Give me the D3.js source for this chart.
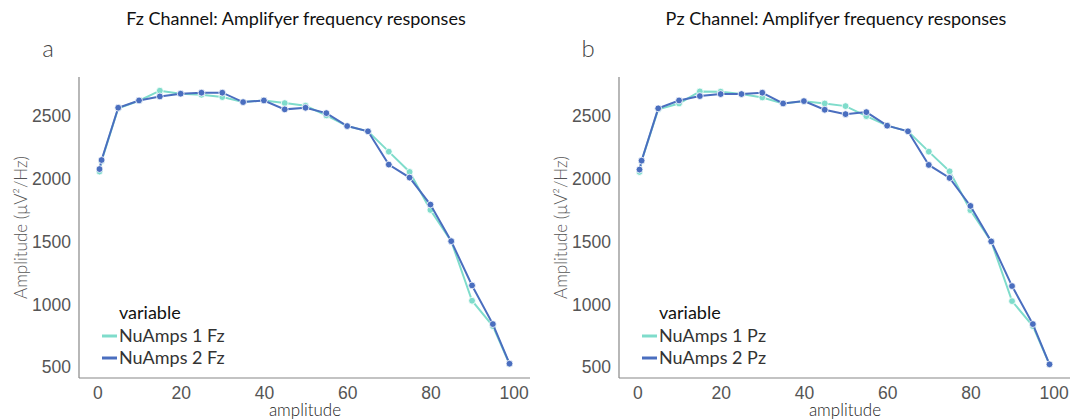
<!DOCTYPE html>
<html>
<head>
<meta charset="utf-8">
<script src="https://cdn.jsdelivr.net/npm/d3@7"></script>
<style>
  body { margin: 0; background: #fff; }
  svg { font-family: Lato, "Noto Sans", sans-serif; }
  .tick text { fill: #555; font-size: 17.5px; font-weight: 300; }
  .axis path { stroke: #888; stroke-width: 1.2; }
</style>
</head>
<body>
<div id="chart"></div>
<script>
// frequencies (x values)
var freqs = [0.5, 1, 5, 10, 15, 20, 25, 30, 35, 40, 45, 50, 55, 60, 65, 70, 75, 80, 85, 90, 95, 99];

// Fz channel
var fzAmp1 = [2060, 2145, 2565, 2625, 2705, 2680, 2673, 2654, 2614, 2627, 2606, 2585, 2508, 2423, 2381, 2219, 2057, 1754, 1505, 1030, 828, 525];
var fzAmp2 = [2080, 2152, 2569, 2627, 2659, 2681, 2689, 2689, 2614, 2627, 2556, 2569, 2526, 2423, 2381, 2116, 2012, 1797, 1505, 1152, 844, 528];

// Pz channel
var pzAmp1 = [2057, 2145, 2556, 2603, 2699, 2697, 2678, 2651, 2603, 2620, 2603, 2582, 2502, 2426, 2381, 2219, 2062, 1752, 1503, 1027, 828, 523];
var pzAmp2 = [2076, 2147, 2564, 2627, 2662, 2678, 2678, 2689, 2603, 2622, 2553, 2518, 2534, 2426, 2381, 2113, 2009, 1786, 1503, 1147, 844, 523];

var xTicks = [0, 20, 40, 60, 80, 100];
var yTicks = [500, 1000, 1500, 2000, 2500];

var colors = ["#7fdccb", "#4a6ebf"];

var panels = [
    {letter: "a", title: "Fz Channel: Amplifyer frequency responses", ch: "Fz", series: [fzAmp1, fzAmp2]},
    {letter: "b", title: "Pz Channel: Amplifyer frequency responses", ch: "Pz", series: [pzAmp1, pzAmp2]}
];

var W = 1084, H = 420;
var svg = d3.select("#chart").append("svg").attr("width", W).attr("height", H);

// plot box for the left panel, right one is offset by 540
var box = {left: 79, right: 530, top: 77, bottom: 378};

// data limits with 5% padding like matplotlib
var allY = fzAmp1.concat(fzAmp2, pzAmp1, pzAmp2);
var yMin = d3.min(allY), yMax = d3.max(allY);
var xMin = d3.min(freqs), xMax = d3.max(freqs);
var xPad = (xMax - xMin) * 0.05, yPad = (yMax - yMin) * 0.05;

panels.forEach(function(p, pi) {
    var off = pi * 540;
    var g = svg.append("g").attr("transform", "translate(" + off + ",0)");

    var x = d3.scaleLinear().domain([xMin - xPad, xMax + xPad]).range([box.left, box.right]);
    var y = d3.scaleLinear().domain([yMin - yPad, yMax + yPad]).range([box.bottom, box.top]);

    // axes
    g.append("g").attr("class", "axis")
        .attr("transform", "translate(0," + box.bottom + ")")
        .call(d3.axisBottom(x).tickValues(xTicks).tickFormat(d3.format("d")).tickSize(0).tickPadding(9))
        .call(function(a) { a.select(".domain").attr("d", "M" + box.left + ",0H" + box.right); });

    g.append("g").attr("class", "axis")
        .attr("transform", "translate(" + box.left + ",0)")
        .call(d3.axisLeft(y).tickValues(yTicks).tickFormat(d3.format("d")).tickSize(0).tickPadding(8))
        .call(function(a) { a.select(".domain").attr("d", "M0," + box.top + "V" + box.bottom); });

    // title + panel letter
    g.append("text").attr("x", 296).attr("y", 25).attr("text-anchor", "middle")
        .style("font-size", "18px").style("fill", "#111").text(p.title);
    g.append("text").attr("x", 48).attr("y", 57).attr("text-anchor", "middle")
        .style("font-size", "24px").style("font-weight", 300).style("fill", "#444").text(p.letter);

    // axis labels
    g.append("text").attr("x", 305).attr("y", 416).attr("text-anchor", "middle")
        .style("font-size", "17px").style("font-weight", 300).style("fill", "#222").text("amplitude");
    g.append("text").attr("transform", "translate(27," + ((box.top + box.bottom) / 2) + ") rotate(-90)")
        .attr("text-anchor", "middle")
        .style("font-size", "17px").style("font-weight", 300).style("fill", "#555")
        .text("Amplitude (μV²/Hz)");

    var line = d3.line().x(function(d) { return x(d[0]); }).y(function(d) { return y(d[1]); });

    p.series.forEach(function(vals, si) {
        var pts = freqs.map(function(f, i) { return [f, vals[i]]; });
        g.append("path").datum(pts)
            .attr("fill", "none").attr("stroke", colors[si]).attr("stroke-width", 2)
            .attr("d", line);
        g.selectAll(".dot" + si).data(pts).enter().append("circle")
            .attr("class", "dot" + si)
            .attr("cx", function(d) { return x(d[0]); })
            .attr("cy", function(d) { return y(d[1]); })
            .attr("r", 3.4)
            .attr("fill", colors[si]).attr("stroke", "#fff").attr("stroke-width", 0.8);
    });

    // legend
    var lg = g.append("g");
    lg.append("text").attr("x", 119).attr("y", 319)
        .style("font-size", "18px").style("fill", "#111").text("variable");
    ["NuAmps 1 ", "NuAmps 2 "].forEach(function(name, i) {
        var yy = 336 + i * 22;
        lg.append("line").attr("x1", 102).attr("x2", 117).attr("y1", yy).attr("y2", yy)
            .attr("stroke", colors[i]).attr("stroke-width", 3);
        lg.append("text").attr("x", 119).attr("y", yy + 6)
            .style("font-size", "18px").style("fill", "#333").text(name + p.ch);
    });
});
</script>
</body>
</html>
